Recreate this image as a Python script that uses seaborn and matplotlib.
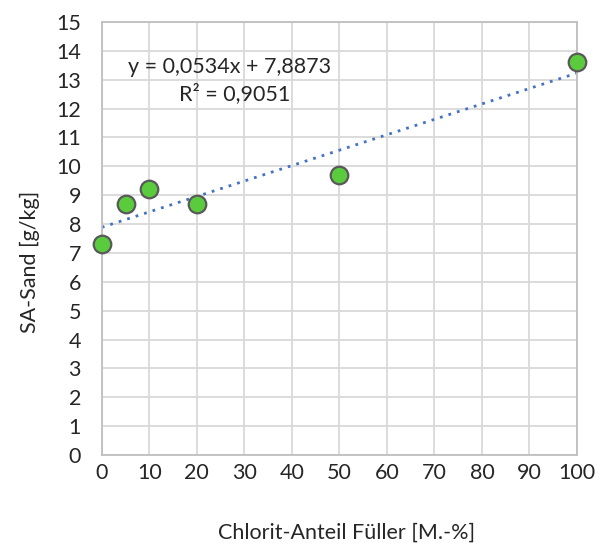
import matplotlib
matplotlib.use("Agg")
import matplotlib.pyplot as plt
import seaborn as sns
import numpy as np
import pandas as pd

# Measured values
chlorit_share = [0, 5, 10, 20, 50, 100]
sa_sand = [7.3, 8.7, 9.2, 8.7, 9.7, 13.6]

# Linear trendline as stated on the chart
slope = 0.0534
intercept = 7.8873
r_squared = 0.9051

x_ticks = list(range(0, 101, 10))
y_ticks = list(range(0, 16))

sns.set_style("white")
plt.rcParams["font.family"] = ["Lato", "DejaVu Sans"]

df = pd.DataFrame({"x": chlorit_share, "y": sa_sand})

fig = plt.figure(figsize=(6.06, 5.47), dpi=100)
ax = fig.add_axes([0.168, 0.168, 0.784, 0.792])

grid_col = "#D9D9D9"
ax.set_xlim(0, 100)
ax.set_ylim(0, 15)
ax.set_xticks(x_ticks)
ax.set_yticks(y_ticks)
ax.grid(True, color=grid_col, linewidth=1.3)
ax.set_axisbelow(True)
for sp in ax.spines.values():
    sp.set_color("#BFBFBF")
    sp.set_linewidth(1.3)

tx = np.array([0, 100])
sns.lineplot(x=tx, y=slope * tx + intercept, ax=ax, color="#4472C4",
             linestyle=(0, (1, 2.2)), linewidth=2.0, zorder=2)

sns.scatterplot(data=df, x="x", y="y", ax=ax, s=160, color="#5ACB3C",
                edgecolor="#595959", linewidth=1.6, zorder=3, clip_on=False)

fs = 15.5
txt_col = "#262626"
ax.tick_params(axis="x", length=0, labelsize=fs, labelcolor=txt_col, pad=6)
ax.tick_params(axis="y", length=0, labelsize=fs, labelcolor=txt_col, pad=15)
ax.set_xlabel("Chlorit-Anteil Füller [M.-%]", fontsize=fs, color=txt_col)
ax.set_ylabel("SA-Sand [g/kg]", fontsize=fs, color=txt_col)
ax.xaxis.set_label_coords(0.516, -0.18)
ax.yaxis.set_label_coords(-0.152, 0.446)
ax.xaxis.label.set_va("center")
ax.yaxis.label.set_va("center")

eq = f"y = {slope:.4f}x + {intercept:.4f}".replace(".", ",")
r2 = f"R² = {r_squared:.4f}".replace(".", ",")
ax.text(26.9, 13.45, eq, fontsize=fs, color=txt_col, ha="center", va="center")
ax.text(39.6, 12.5, r2, fontsize=fs, color=txt_col, ha="right", va="center")

fig.savefig("out.png", dpi=100)
